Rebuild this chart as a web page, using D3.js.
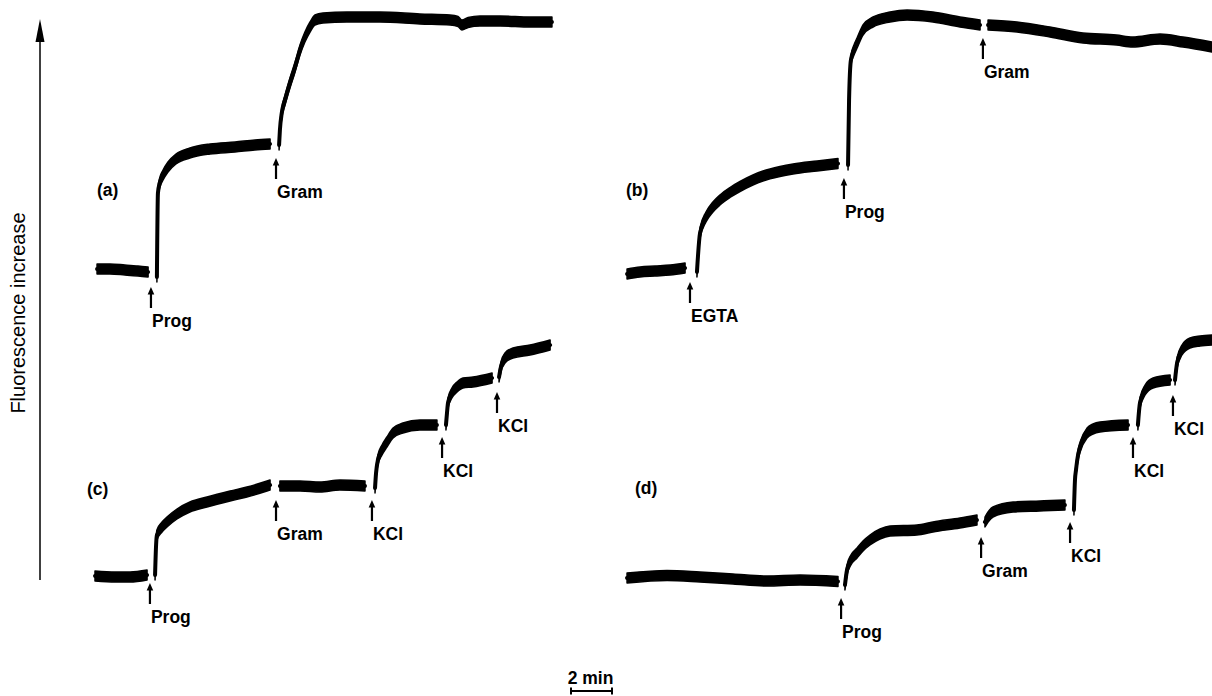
<!DOCTYPE html>
<html>
<head>
<meta charset="utf-8">
<script src="https://cdn.jsdelivr.net/npm/d3@7"></script>
<style>
  body { margin: 0; background: #fff; }
  svg { display: block; }
  text { font-family: "Liberation Sans", Arial, Helvetica, sans-serif; fill: #000; }
</style>
</head>
<body>
<div id="chart"></div>
<script>
// trace readings: [time (min), fluorescence (a.u.)], one array per recorded segment
var traceA = [
    [[0.10, 1.2], [0.73, 1.2], [1.46, 0.8], [2.10, 0.4], [2.59, 0]],
    [[3.02, -2], [3.07, 31.6], [3.17, 36], [3.32, 38.8], [3.56, 42], [3.95, 45.2], [4.63, 47.6], [5.61, 49.2], [6.83, 50], [7.80, 50.8], [8.54, 51.2]],
    [[8.98, 50.8], [9.02, 56.8], [9.11, 63.6], [9.27, 68.8], [9.51, 75.6], [9.76, 82], [10.0, 88.8], [10.24, 94], [10.49, 98], [10.73, 100.8], [11.12, 101.6], [12.29, 102], [13.90, 102], [15.85, 101.2], [17.32, 100.8], [17.71, 100.2], [17.90, 98.8], [18.20, 99.8], [18.78, 100.4], [19.76, 100.4], [21.22, 100], [22.29, 100]]
];
var traceB = [
    [[0.10, -0.8], [0.73, 0], [1.46, 0.4], [2.20, 0.8], [2.93, 1.6]],
    [[3.51, 0], [3.66, 15.6], [3.95, 22], [4.29, 26], [4.63, 28.8], [5.12, 31.8], [5.61, 34.2], [6.24, 36.8], [6.73, 38.4], [7.56, 40.2], [8.20, 41.2], [9.37, 42.4], [10.39, 43.4]],
    [[10.88, 42.8], [10.93, 68.8], [11.02, 84.8], [11.17, 88.8], [11.32, 91.6], [11.61, 96.8], [12.10, 100], [12.93, 102], [13.76, 102.8], [15.02, 102], [16.34, 100], [17.32, 98.8]],
    [[17.71, 98.8], [19.12, 98], [20.73, 96], [22.34, 93.6], [23.98, 92.8], [24.76, 92], [26.10, 93.2], [27.22, 92], [28.63, 90]]
];
var traceC = [
    [[0, 0.8], [0.98, 0.4], [1.71, 0.4], [2.54, 1.2]],
    [[2.93, 1.2], [2.98, 13.2], [3.02, 17.2], [3.27, 20.4], [3.51, 22.4], [4.00, 25.6], [4.63, 28.4], [5.46, 30.4], [6.59, 32.8], [7.41, 34.4], [8.39, 36.8], [8.54, 37.2]],
    [[9.02, 36.8], [10.0, 36.8], [10.98, 36.4], [11.95, 37.2], [13.17, 36.8]],
    [[13.66, 36], [13.71, 42], [13.80, 47.2], [14.00, 51.2], [14.24, 54.4], [14.54, 58], [15.02, 60], [15.85, 61.2], [16.68, 61.2]],
    [[17.12, 61.2], [17.17, 66], [17.22, 70], [17.41, 74], [17.66, 76.4], [17.95, 78], [18.44, 78.4], [19.37, 80]],
    [[19.71, 80.4], [19.80, 84.4], [20.0, 88], [20.39, 90], [21.22, 91.2], [22.20, 93.2]]
];
var traceD = [
    [[0.10, 0], [2.05, 1.0], [3.66, 0.4], [5.27, -0.4], [6.93, -1.2], [8.54, -0.8], [10.39, -1.4]],
    [[10.73, -2.8], [10.83, 3.2], [11.02, 7.2], [11.32, 10], [11.61, 12.8], [11.95, 15.2], [12.44, 17.6], [12.93, 18.8], [14.24, 19.2], [15.02, 20.4], [16.34, 22], [17.17, 23.2]],
    [[17.56, 22.4], [17.71, 24.4], [17.95, 26.4], [18.93, 28.4], [20.24, 28.8], [21.46, 29.2]],
    [[21.90, 27.2], [21.95, 39.2], [22.0, 43.2], [22.10, 49.2], [22.20, 52.4], [22.54, 58], [22.83, 59.6], [23.17, 60.4], [24.54, 61.2]],
    [[25.02, 61.2], [25.12, 70], [25.37, 75.2], [25.76, 78], [26.59, 79.2]],
    [[26.83, 79.2], [26.93, 86], [27.17, 91.2], [27.56, 94], [28.05, 94.8], [28.63, 95.2]]
];

// additions: [time (min), level the arrow points at (a.u.), label]
var eventsA = [[2.73, -6, "Prog"], [8.83, 45.6, "Gram"]];
var eventsB = [[3.17, -4, "EGTA"], [10.68, 37.6, "Prog"], [17.46, 93.6, "Gram"]];
var eventsC = [[2.68, -2, "Prog"], [8.83, 31.2, "Gram"], [13.51, 31.2, "KCl"], [16.93, 56.4, "KCl"], [19.61, 74.4, "KCl"]];
var eventsD = [[10.54, -8, "Prog"], [17.37, 16.4, "Gram"], [21.71, 22.4, "KCl"], [24.78, 56.4, "KCl"], [26.73, 73.2, "KCl"]];

var panelNames = ["(a)", "(b)", "(c)", "(d)"];
var axisLabel = "Fluorescence increase";
var scaleBarMinutes = 2;
var scaleBarLabel = "2 min";

var svgWidth = 1212;
var svgHeight = 696;

var svg = d3.select("#chart")
    .append("svg")
    .attr("width", svgWidth)
    .attr("height", svgHeight);

// scales: one x per column, one y per row (20.5 px per minute, 2.5 px per unit)
var xLeft = d3.scaleLinear().domain([0, 28]).range([95, 95 + 28 * 20.5]);
var xRight = d3.scaleLinear().domain([0, 28]).range([625, 625 + 28 * 20.5]);
var yTop = d3.scaleLinear().domain([0, 100]).range([272, 22]);
var yBottom = d3.scaleLinear().domain([0, 100]).range([578, 328]);

var panels = [
    { name: panelNames[0], trace: traceA, events: eventsA, x: xLeft, y: yTop, labelAt: [0.1, 30.4] },
    { name: panelNames[1], trace: traceB, events: eventsB, x: xRight, y: yTop, labelAt: [0.05, 30.4] },
    { name: panelNames[2], trace: traceC, events: eventsC, x: xLeft, y: yBottom, labelAt: [-0.39, 33.2] },
    { name: panelNames[3], trace: traceD, events: eventsD, x: xRight, y: yBottom, labelAt: [0.49, 33.6] }
];

var half = 5; // vertical half-width of the noisy pen band

panels.forEach(function(p) {
    var g = svg.append("g");

    var band = d3.area()
        .x(d => p.x(d[0]))
        .y0(d => p.y(d[1]) - half)
        .y1(d => p.y(d[1]) + half)
        .curve(d3.curveMonotoneX);

    var pen = d3.line()
        .x(d => p.x(d[0]))
        .y(d => p.y(d[1]))
        .curve(d3.curveMonotoneX);

    g.selectAll("path.band")
        .data(p.trace)
        .enter()
        .append("path")
        .attr("class", "band")
        .attr("d", band)
        .attr("fill", "#000")
        .attr("stroke", "#000")
        .attr("stroke-width", 1.5)
        .attr("stroke-linejoin", "round");

    g.selectAll("path.pen")
        .data(p.trace)
        .enter()
        .append("path")
        .attr("class", "pen")
        .attr("d", pen)
        .attr("fill", "none")
        .attr("stroke", "#000")
        .attr("stroke-width", 4)
        .attr("stroke-linecap", "round");

    // addition arrows with labels
    var ev = g.selectAll("g.event")
        .data(p.events)
        .enter()
        .append("g")
        .attr("class", "event")
        .attr("transform", d => `translate(${p.x(d[0])}, ${p.y(d[1])})`);

    ev.append("line")
        .attr("x1", 0).attr("x2", 0)
        .attr("y1", 5).attr("y2", 21)
        .attr("stroke", "#000")
        .attr("stroke-width", 2.2);

    ev.append("path")
        .attr("d", "M0,0L-3.3,7.5L3.3,7.5Z")
        .attr("fill", "#000");

    ev.append("text")
        .attr("x", 1)
        .attr("y", 40)
        .attr("font-size", "17.5px")
        .attr("font-weight", "bold")
        .text(d => d[2]);

    g.append("text")
        .attr("x", p.x(p.labelAt[0]))
        .attr("y", p.y(p.labelAt[1]))
        .attr("font-size", "17.5px")
        .attr("font-weight", "bold")
        .text(p.name);
});

// vertical "fluorescence increase" arrow
svg.append("line")
    .attr("x1", 40).attr("x2", 40)
    .attr("y1", 580).attr("y2", 36)
    .attr("stroke", "#000")
    .attr("stroke-width", 1.5);

svg.append("path")
    .attr("d", "M40,19L35.5,42L44.5,42Z")
    .attr("fill", "#000");

svg.append("text")
    .attr("transform", "translate(25, 313) rotate(-90)")
    .attr("text-anchor", "middle")
    .attr("font-size", "20px")
    .text(axisLabel);

// time scale bar
var barLen = xLeft(scaleBarMinutes) - xLeft(0);
var barX = 571, barY = 691;
var bar = svg.append("g").attr("stroke", "#000").attr("stroke-width", 2);
bar.append("line").attr("x1", barX).attr("x2", barX + barLen).attr("y1", barY).attr("y2", barY);
bar.append("line").attr("x1", barX).attr("x2", barX).attr("y1", barY - 3.5).attr("y2", barY + 3.5);
bar.append("line").attr("x1", barX + barLen).attr("x2", barX + barLen).attr("y1", barY - 3.5).attr("y2", barY + 3.5);

svg.append("text")
    .attr("x", barX + barLen / 2 - 1)
    .attr("y", 684)
    .attr("text-anchor", "middle")
    .attr("font-size", "17.5px")
    .attr("font-weight", "bold")
    .text(scaleBarLabel);
</script>
</body>
</html>
